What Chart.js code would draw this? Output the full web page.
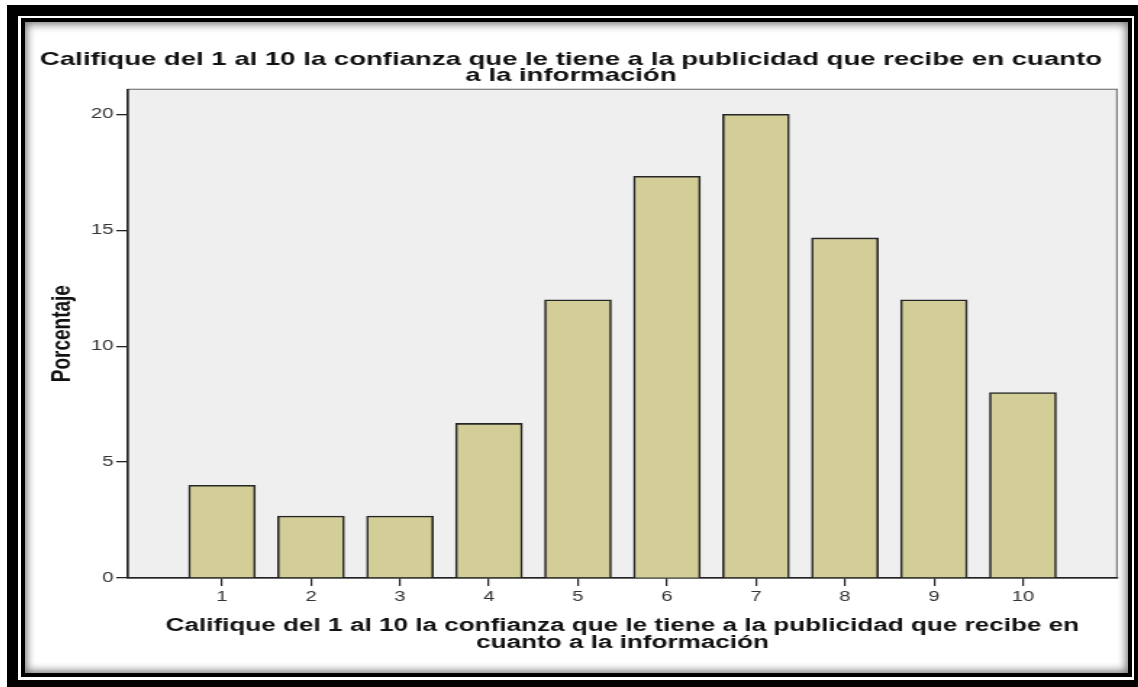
<!DOCTYPE html>
<html lang="es">
<head>
<meta charset="utf-8">
<title>Confianza en la publicidad</title>
<script src="https://cdn.jsdelivr.net/npm/chart.js@4.4.1/dist/chart.umd.min.js"></script>
<style>
    html, body { margin: 0; padding: 0; background: #fff; overflow: hidden; }
    .band { position: absolute; }
    #outer { left: 7px; top: 5px; width: 1200px; height: 800px; background: #000; }
    #gap { left: 18px; top: 16px; width: 1116px; height: 664px; background: #fff; }
    #inner { left: 21px; top: 18px; width: 1111px; height: 659px; background: #000; }
    #panel { left: 25px; top: 22px; width: 1103px; height: 651px; background: #fff;
             box-shadow: inset 0 0 9px 2px rgba(0, 0, 0, 0.55); overflow: hidden; }
    #panel canvas { position: absolute; left: 0; top: 0; transform-origin: 0 0; }
</style>
</head>
<body>
<div id="outer" class="band"></div>
<div id="gap" class="band"></div>
<div id="inner" class="band"></div>
<div id="panel" class="band"><canvas id="chart" width="761" height="651"></canvas></div>

<script>
const categories = [1, 2, 3, 4, 5, 6, 7, 8, 9, 10]
const percentages = [4, 2.67, 2.67, 6.67, 12, 17.33, 20, 14.67, 12, 8]
const yTicks = [0, 5, 10, 15, 20]
const chartTitle = [
    'Califique del 1 al 10 la confianza que le tiene a la publicidad que recibe en cuanto',
    'a la información',
]
const xTitle = [
    'Califique del 1 al 10 la confianza que le tiene a la publicidad que recibe en',
    'cuanto a la información',
]
const yTitle = 'Porcentaje'

// canvas is drawn narrow and stretched sideways, which gives the wide lettering
const STRETCH = 1103 / 761
const FONT = "'Liberation Sans', Arial, sans-serif"

const plotBackground = {
    id: 'plotBackground',
    beforeDraw(chart) {
        const { ctx, chartArea: { left, top, right, bottom } } = chart
        ctx.save()
        ctx.fillStyle = '#efefef'
        ctx.fillRect(left, top, right - left, bottom - top)
        ctx.strokeStyle = '#7a7a7a'
        ctx.lineWidth = 1.2
        ctx.strokeRect(left, top, right - left, bottom - top)
        ctx.restore()
    }
}

const canvas = document.getElementById('chart')
canvas.style.transform = `scaleX(${STRETCH})`

new Chart(canvas, {
    type: 'bar',
    data: {
        datasets: [{
            data: categories.map((c, i) => ({ x: c, y: percentages[i] })),
            backgroundColor: '#d3ce97',
            borderColor: '#262626',
            borderWidth: 1.6,
            barThickness: 46,
        }]
    },
    options: {
        responsive: false,
        devicePixelRatio: 1,
        animation: false,
        layout: { padding: { left: 0, right: 7.6, top: 0, bottom: 0 } },
        plugins: {
            legend: { display: false },
            tooltip: { enabled: false },
            title: {
                display: true,
                text: chartTitle,
                color: '#111',
                font: { family: FONT, size: 19, weight: 'bold', lineHeight: 0.85 },
                padding: { top: 29.5, bottom: 5.5 },
            },
        },
        scales: {
            x: {
                type: 'linear',
                offset: false,
                min: -0.057,
                max: 11.057,
                afterBuildTicks: scale => { scale.ticks = categories.map(value => ({ value })) },
                afterFit: scale => { scale.height = 95 },
                grid: { display: true, offset: false, drawOnChartArea: false, drawTicks: true, tickLength: 8, tickColor: '#222', lineWidth: 1.2 },
                border: { display: true, color: '#222', width: 1.5 },
                ticks: {
                    color: '#333',
                    padding: 3,
                    maxRotation: 0,
                    autoSkip: false,
                    font: { family: FONT, size: 14 },
                    callback: value => String(value),
                },
                title: {
                    display: true,
                    text: xTitle,
                    color: '#111',
                    font: { family: FONT, size: 18, weight: 'bold', lineHeight: 17 / 18 },
                    padding: { top: 0, bottom: 21.5 },
                },
            },
            y: {
                min: 0,
                max: 21.08,
                afterBuildTicks: scale => { scale.ticks = yTicks.map(value => ({ value })) },
                afterFit: scale => { scale.width = 71 },
                grid: { display: true, drawOnChartArea: false, drawTicks: true, tickLength: 8, tickColor: '#222', lineWidth: 1.3 },
                border: { display: true, color: '#222', width: 1.5 },
                ticks: {
                    color: '#333',
                    padding: 2,
                    font: { family: FONT, size: 14 },
                },
                title: {
                    display: true,
                    text: yTitle,
                    color: '#111',
                    font: { family: FONT, size: 19, weight: 'bold', lineHeight: 1 },
                    padding: { top: 16, bottom: 0 },
                },
            },
        },
    },
    plugins: [plotBackground],
})
</script>
</body>
</html>
